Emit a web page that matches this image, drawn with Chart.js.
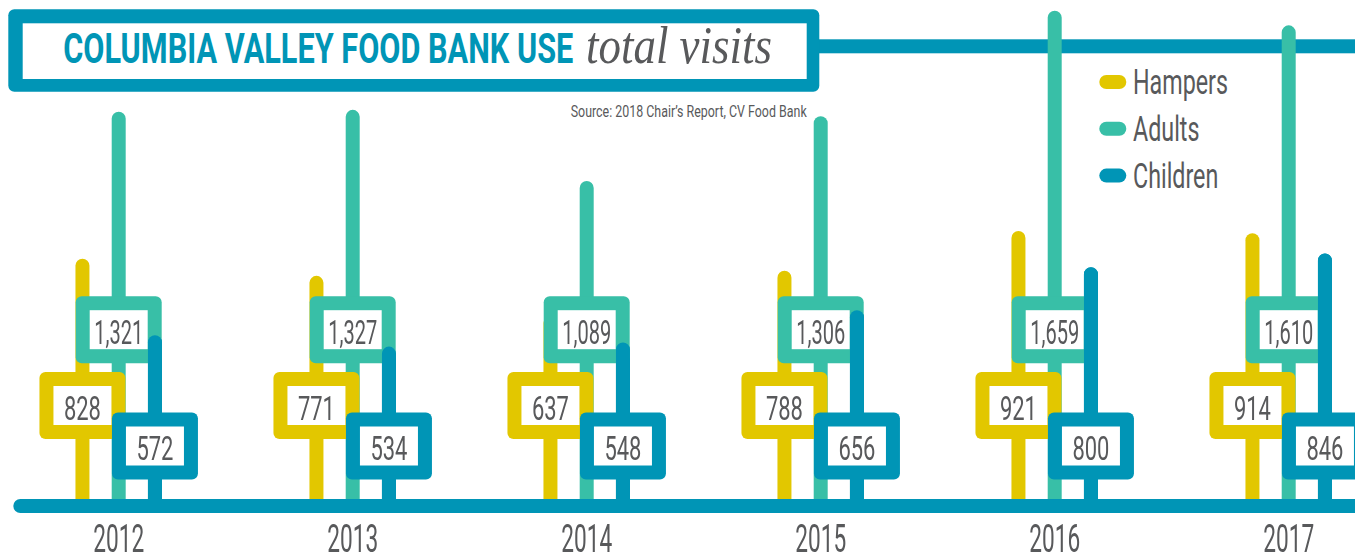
<!DOCTYPE html>
<html>
<head>
<meta charset="utf-8">
<title>Columbia Valley Food Bank Use</title>
<script src="https://cdn.jsdelivr.net/npm/chart.js@4.4.1/dist/chart.umd.min.js"></script>
<style>
body{margin:0;background:#fff;}
#wrap{position:relative;width:1355px;height:558px;overflow:hidden;}
#deco{position:absolute;left:0;top:0;}
#myChart{position:absolute;left:0;top:0;}
</style>
</head>
<body>
<div id="wrap">
<svg id="deco" width="1355" height="558" xmlns="http://www.w3.org/2000/svg">
  <rect x="806" y="39.3" width="560" height="14" fill="#0095b6"/>
  <rect x="8.3" y="9.3" width="811" height="82.4" rx="6" fill="#0095b6"/>
  <rect x="22.7" y="23.3" width="784" height="55.7" fill="#fff"/>
  <text x="63.3" y="63.3" textLength="510" lengthAdjust="spacingAndGlyphs" fill="#0095b6" font-family="Liberation Sans Narrow, Roboto, sans-serif" font-weight="bold" font-size="43">COLUMBIA VALLEY FOOD BANK USE</text>
  <text x="586" y="63.3" textLength="186" lengthAdjust="spacingAndGlyphs" fill="#58595b" font-family="Liberation Serif, serif" font-style="italic" font-size="52">total visits</text>
  <text x="570.7" y="117.3" textLength="236" lengthAdjust="spacingAndGlyphs" fill="#58595b" font-family="Liberation Sans Narrow, Roboto, sans-serif" font-size="17">Source: 2018 Chair’s Report, CV Food Bank</text>
  <g id="legend"></g>
</svg>
<canvas id="myChart" width="1355" height="558"></canvas>
</div>
<script>
'use strict';
let years=['2012','2013','2014','2015','2016','2017'];
let seriesNames=['Hampers','Adults','Children'];
let hampers=[828,771,637,788,921,914];
let adults=[1321,1327,1089,1306,1659,1610];
let children=[572,534,548,656,800,846];

let seriesColors=['#e2c700','#38bfa7','#0095b6'];
let textGray='#58595b';
let narrow='"Liberation Sans Narrow", Roboto, sans-serif';
// y centre of the label boxes, one row per series
let boxRows=[405.5,329.7,446];

// legend (pills + names)
let svgNS='http://www.w3.org/2000/svg';
let legendEL=document.getElementById('legend');
let legendTexts=[];
for(let i=0;i<seriesNames.length;i++)
{
    let cy=82+i*46.8;
    let pill=document.createElementNS(svgNS,'rect');
    pill.setAttribute('x',1099.3);
    pill.setAttribute('y',cy-7);
    pill.setAttribute('width',27);
    pill.setAttribute('height',14);
    pill.setAttribute('rx',7);
    pill.setAttribute('fill',seriesColors[i]);
    legendEL.appendChild(pill);
    let t=document.createElementNS(svgNS,'text');
    t.setAttribute('x',1133);
    t.setAttribute('y',cy+12);
    t.setAttribute('fill',textGray);
    t.setAttribute('font-family',narrow);
    t.setAttribute('font-size',35);
    t.textContent=seriesNames[i];
    legendEL.appendChild(t);
    legendTexts.push(t);
}
let squeeze=95/legendTexts[0].getComputedTextLength();
legendTexts.forEach(function(t){
    t.setAttribute('textLength',t.getComputedTextLength()*squeeze);
    t.setAttribute('lengthAdjust','spacingAndGlyphs');
});

function drawBoxes(chart,dsIndex)
{
    let ctx=chart.ctx;
    let meta=chart.getDatasetMeta(dsIndex);
    let values=chart.data.datasets[dsIndex].data;
    let cy=boxRows[dsIndex];
    ctx.save();
    ctx.font='33px '+narrow;
    let k=37/ctx.measureText('888').width;
    for(let i=0;i<meta.data.length;i++)
    {
        let cx=meta.data[i].x;
        ctx.fillStyle=seriesColors[dsIndex];
        ctx.beginPath();
        ctx.roundRect(cx-43,cy-33.5,86,67,6);
        ctx.fill();
        ctx.fillStyle='#fff';
        ctx.fillRect(cx-29,cy-19.5,58,39);
        ctx.save();
        ctx.translate(cx,cy+14);
        ctx.scale(k,1);
        ctx.fillStyle=textGray;
        ctx.textAlign='center';
        // 4-digit numbers are a bit tighter in the original
        ctx.fillText(values[i].toLocaleString('en-US'),0,0,49/k);
        ctx.restore();
    }
    ctx.restore();
}

let overlay={
    id:'overlay',
    afterDatasetsDraw:function(chart)
    {
        let ctx=chart.ctx;
        drawBoxes(chart,1);
        drawBoxes(chart,0);
        // children bars sit on top of the adults boxes
        chart.getDatasetMeta(2).data.forEach(function(bar){bar.draw(ctx);});
        drawBoxes(chart,2);

        let y0=chart.scales.y.getPixelForValue(0);
        ctx.save();
        ctx.strokeStyle=seriesColors[2];
        ctx.lineWidth=14;
        ctx.lineCap='round';
        ctx.beginPath();
        ctx.moveTo(20.3,y0);
        ctx.lineTo(1380,y0);
        ctx.stroke();

        ctx.font='38px '+narrow;
        let k=51/ctx.measureText('2012').width;
        ctx.fillStyle=textGray;
        ctx.textAlign='center';
        for(let i=0;i<years.length;i++)
        {
            ctx.save();
            ctx.translate(chart.scales.x.getPixelForValue(i),551.7);
            ctx.scale(k,1);
            ctx.fillText(years[i],0,0);
            ctx.restore();
        }
        ctx.restore();
    }
};

let ctx=document.getElementById('myChart').getContext('2d');
let myChart=new Chart(ctx,{
    type:'bar',
    data:{
        labels:years,
        datasets:[
            {label:seriesNames[0],data:hampers,backgroundColor:seriesColors[0]},
            {label:seriesNames[1],data:adults,backgroundColor:seriesColors[1]},
            {label:seriesNames[2],data:children,backgroundColor:seriesColors[2]}
        ]
    },
    options:{
        responsive:false,
        animation:false,
        layout:{padding:{left:118.7,right:66.3,top:0,bottom:52}},
        datasets:{bar:{
            clip:false,
            borderRadius:7,
            categoryPercentage:0.4647,
            barPercentage:0.386
        }},
        scales:{
            x:{display:false,offset:false},
            y:{display:false,min:0,max:1695}
        },
        plugins:{
            legend:{display:false},
            tooltip:{enabled:false}
        }
    },
    plugins:[overlay]
});
</script>
</body>
</html>
